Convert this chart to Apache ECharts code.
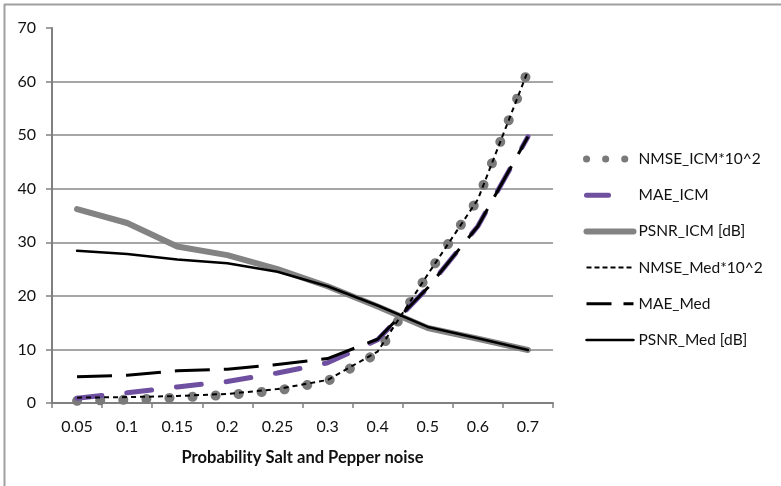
<!DOCTYPE html>
<html>
<head>
<meta charset="utf-8">
<script src="https://cdn.jsdelivr.net/npm/echarts@6/dist/echarts.min.js"></script>
<style>
html,body{margin:0;padding:0;background:#fff;}
#c{width:781px;height:486px;}
</style>
</head>
<body>
<div id="c"></div>
<script>
var categories = ['0.05','0.1','0.15','0.2','0.25','0.3','0.4','0.5','0.6','0.7'];
var nmseICM = [0.4, 0.6, 1.0, 1.5, 2.3, 4.1, 9.3, 24, 38, 62];
var maeICM  = [0.9, 1.9, 3.0, 4.0, 5.6, 7.5, 11.8, 21.5, 33, 49.7];
var psnrICM = [36.2, 33.6, 29.2, 27.6, 25.0, 21.8, 18.0, 14.0, 12.0, 9.9];
var nmseMed = [1.0, 1.1, 1.3, 1.7, 2.6, 4.3, 9.6, 24, 38, 62];
var maeMed  = [4.9, 5.2, 6.0, 6.3, 7.2, 8.3, 11.9, 21.5, 33, 49.7];
var psnrMed = [28.4, 27.8, 26.8, 26.1, 24.5, 21.8, 18.2, 14.2, 12.1, 9.9];
var seriesNames = ['NMSE_ICM*10^2','MAE_ICM','PSNR_ICM [dB]','NMSE_Med*10^2','MAE_Med','PSNR_Med [dB]'];

var chart = echarts.init(document.getElementById('c'), null, {renderer:'canvas'});
var font = 'Lato, "Open Sans", sans-serif';
var styles = [
  {color:'#7a7a7a', width:10, type:[0.1, 23], cap:'round', lw:7, legendType:[0.1, 19]},
  {color:'#6f4fa0', width:5, type:[25, 25], cap:'round', lw:5, legendType:[22, 40]},
  {color:'#838383', width:6, type:'solid', cap:'round', lw:6, legendType:'solid'},
  {color:'#000', width:2, type:[5, 4], cap:'butt', lw:2, legendType:[5, 3]},
  {color:'#000', width:3, type:[35, 14], cap:'butt', lw:3, legendType:[25, 12]},
  {color:'#000', width:2.5, type:'solid', cap:'round', lw:2.5, legendType:'solid'}
];
var seriesData = [nmseICM, maeICM, psnrICM, nmseMed, maeMed, psnrMed];
var series = seriesNames.map(function(n, i){
  var s = styles[i];
  return {
    name: n, type: 'line', data: seriesData[i], symbol: 'none', smooth: false,
    lineStyle: {color: s.color, width: s.width, type: s.type, cap: s.cap, join: 'round'},
    itemStyle: {color: s.color}
  };
});
var legendData = seriesNames.map(function(n, i){
  var s = styles[i];
  return {name: n, lineStyle: {color: s.color, width: s.lw, type: s.legendType, cap: s.cap}};
});
chart.setOption({
  animation: false,
  backgroundColor: '#fff',
  graphic: [
    {type:'line', shape:{x1:4, y1:4.5, x2:781, y2:4.5}, style:{stroke:'#a0a0a0', lineWidth:2}},
    {type:'line', shape:{x1:4.5, y1:4, x2:4.5, y2:486}, style:{stroke:'#a0a0a0', lineWidth:2}}
  ],
  grid: {left: 52, right: 228, top: 28, bottom: 83, containLabel: false},
  legend: {
    orient: 'vertical', left: 578, top: 146,
    itemWidth: 47, itemHeight: 14, itemGap: 20.2, itemTextGap: 5,
    itemStyle: {opacity: 0},
    textStyle: {fontFamily: font, fontSize: 15.5, color: '#111'},
    data: legendData
  },
  xAxis: {
    type: 'category', data: categories, boundaryGap: true,
    name: 'Probability Salt and Pepper noise', nameLocation: 'middle', nameGap: 46,
    nameTextStyle: {fontFamily: font, fontSize: 16.5, fontWeight: 'bold', color: '#111'},
    axisLine: {lineStyle: {color: '#808080', width: 2}},
    axisTick: {show: true, length: 5, lineStyle: {color: '#808080', width: 1.5}},
    axisLabel: {fontFamily: font, fontSize: 16, color: '#111', margin: 16}
  },
  yAxis: {
    type: 'value', min: 0, max: 70, interval: 10,
    axisLine: {show: true, lineStyle: {color: '#808080', width: 2}},
    axisTick: {show: true, length: 6, lineStyle: {color: '#808080', width: 1.5}},
    axisLabel: {fontFamily: font, fontSize: 16, color: '#111', margin: 16},
    splitLine: {show: true, showMaxLine: false, lineStyle: {color: '#888', width: 1.5}}
  },
  series: series
});
</script>
</body>
</html>
